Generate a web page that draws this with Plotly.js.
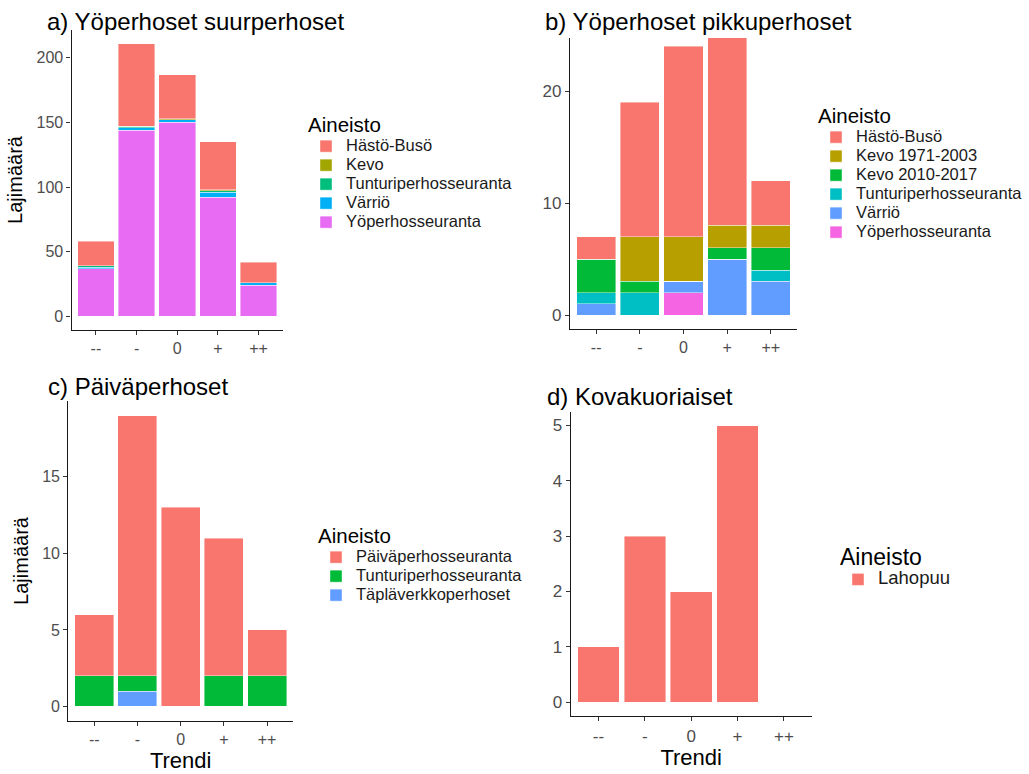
<!DOCTYPE html>
<html>
<head>
<meta charset="utf-8">
<script src="https://cdn.plot.ly/plotly-3.0.1.min.js"></script>
<style>html,body{margin:0;padding:0;background:#fff;}#chart{width:1029px;height:774px;}</style>
</head>
<body>
<div id="chart"></div>
<script>
// ---- Data ----
const trends = ['--', '-', '0', '+', '++'];

// a) Yöperhoset suurperhoset (stack bottom -> top)
const aNames = ['Yöperhosseuranta', 'Värriö', 'Tunturiperhosseuranta', 'Kevo', 'Hästö-Busö'];
const aYoperhosseuranta = [37, 144, 150, 92, 24];
const aVarrio = [1, 2, 2, 4, 2];
const aTunturi = [1, 1, 0, 1, 0];
const aKevo = [0, 0, 1, 1, 0];
const aHasto = [19, 64, 34, 37, 16];
const aColors = ['#E76BF3', '#00B0F6', '#00BF7D', '#A3A500', '#F8766D'];

// b) Yöperhoset pikkuperhoset (stack bottom -> top)
const bNames = ['Yöperhosseuranta', 'Värriö', 'Tunturiperhosseuranta', 'Kevo 2010-2017', 'Kevo 1971-2003', 'Hästö-Busö'];
const bYoperhosseuranta = [0, 0, 2, 0, 0];
const bVarrio = [1, 0, 1, 5, 3];
const bTunturi = [1, 2, 0, 0, 1];
const bKevo2010 = [3, 1, 0, 1, 2];
const bKevo1971 = [0, 4, 4, 2, 2];
const bHasto = [2, 12, 17, 17, 4];
const bColors = ['#F564E3', '#619CFF', '#00BFC4', '#00BA38', '#B79F00', '#F8766D'];

// c) Päiväperhoset (stack bottom -> top)
const cNames = ['Täpläverkkoperhoset', 'Tunturiperhosseuranta', 'Päiväperhosseuranta'];
const cTaplaverkko = [0, 1, 0, 0, 0];
const cTunturi = [2, 1, 0, 2, 2];
const cPaivaperho = [4, 17, 13, 9, 3];
const cColors = ['#619CFF', '#00BA38', '#F8766D'];

// d) Kovakuoriaiset
const dNames = ['Lahopuu'];
const dLahopuu = [1, 3, 2, 5, 0];
const dColors = ['#F8766D'];

// ---- Helpers ----
const W = 1029, H = 774;
const FONT = 'Liberation Sans, Arial, Helvetica, sans-serif';
const px = v => v / W;
const py = v => 1 - v / H;

function barTrace(name, y, color, xa, ya, legend, labelSize) {
  return {
    type: 'bar',
    name: '<span style="font-size:' + labelSize + 'px">' + name + '</span>',
    x: trends, y: y,
    xaxis: xa, yaxis: ya, legend: legend,
    marker: {color: color, line: {color: 'rgba(255,255,255,0.7)', width: 0.6}},
    hovertemplate: name + ': %{y}<extra></extra>'
  };
}

const traces = [];
[aYoperhosseuranta, aVarrio, aTunturi, aKevo, aHasto].forEach((s, i) =>
  traces.push(barTrace(aNames[i], s, aColors[i], 'x', 'y', 'legend', 16.5)));
[bYoperhosseuranta, bVarrio, bTunturi, bKevo2010, bKevo1971, bHasto].forEach((s, i) =>
  traces.push(barTrace(bNames[i], s, bColors[i], 'x2', 'y2', 'legend2', 16.5)));
[cTaplaverkko, cTunturi, cPaivaperho].forEach((s, i) =>
  traces.push(barTrace(cNames[i], s, cColors[i], 'x3', 'y3', 'legend3', 16.5)));
[dLahopuu].forEach((s, i) =>
  traces.push(barTrace(dNames[i], s, dColors[i], 'x4', 'y4', 'legend4', 18.5)));

function xAxis(left, right, anchor, titleText, tickSize) {
  const ax = {
    domain: [px(left), px(right)], anchor: anchor,
    type: 'category', categoryorder: 'array', categoryarray: trends,
    range: [-0.6, 4.6], fixedrange: true,
    showline: true, linecolor: '#1a1a1a', linewidth: 1.2,
    ticks: 'outside', ticklen: 4, tickwidth: 1.1, tickcolor: '#333333',
    tickfont: {family: FONT, size: tickSize, color: '#4D4D4D'},
    showgrid: false, zeroline: false
  };
  if (titleText) ax.title = {text: titleText, font: {family: FONT, size: 22, color: '#000'}, standoff: 4};
  return ax;
}
function yAxis(top, bottom, anchor, range, dtick, titleText, tickSize) {
  const ax = {
    domain: [py(bottom), py(top)], anchor: anchor,
    range: range, dtick: dtick, fixedrange: true,
    showline: true, linecolor: '#1a1a1a', linewidth: 1.2,
    ticks: 'outside', ticklen: 4, tickwidth: 1.1, tickcolor: '#333333',
    tickfont: {family: FONT, size: tickSize, color: '#4D4D4D'},
    showgrid: false, zeroline: false
  };
  if (titleText) ax.title = {text: titleText, font: {family: FONT, size: 20, color: '#000'}, standoff: 8};
  return ax;
}
function legendAt(x, y, titleSize) {
  return {
    x: px(x), y: py(y), xanchor: 'left', yanchor: 'top',
    traceorder: 'reversed', bgcolor: 'rgba(0,0,0,0)', borderwidth: 0,
    font: {family: FONT, size: 12, color: '#1a1a1a'},
    title: {text: 'Aineisto', font: {family: FONT, size: titleSize, color: '#000'}},
    itemclick: false, itemdoubleclick: false
  };
}
function panelTitle(text, x, y) {
  return {
    text: text, xref: 'paper', yref: 'paper', x: px(x), y: py(y),
    xanchor: 'left', yanchor: 'middle', showarrow: false,
    font: {family: FONT, size: 24, color: '#000'}
  };
}

const layout = {
  width: W, height: H,
  margin: {l: 0, r: 0, t: 0, b: 0},
  paper_bgcolor: '#fff', plot_bgcolor: '#fff',
  barmode: 'stack', bargap: 0.1,
  font: {family: FONT},
  xaxis: xAxis(71.5, 283, 'y', null, 16),
  yaxis: yAxis(30, 330, 'x', [-10.55, 221.55], 50, 'Lajimäärä', 16),
  xaxis2: xAxis(570, 797, 'y2', null, 16),
  yaxis2: yAxis(38, 329, 'x2', [-1.25, 24.75], 10, null, 17),
  xaxis3: xAxis(68.3, 293, 'y3', 'Trendi', 16),
  yaxis3: yAxis(401, 721, 'x3', [-0.95, 19.95], 5, 'Lajimäärä', 16),
  xaxis4: xAxis(570.7, 811.7, 'y4', 'Trendi', 17),
  yaxis4: yAxis(411.7, 716, 'x4', [-0.25, 5.25], 1, null, 17),
  legend: legendAt(306, 105, 20.5),
  legend2: legendAt(816, 96, 20.5),
  legend3: legendAt(316, 516, 20.5),
  legend4: legendAt(838, 535, 23),
  annotations: [
    panelTitle('a) Yöperhoset suurperhoset', 45, 21),
    panelTitle('b) Yöperhoset pikkuperhoset', 543, 21),
    panelTitle('c) Päiväperhoset', 46, 386),
    panelTitle('d) Kovakuoriaiset', 545, 396)
  ],
  showlegend: true
};

Plotly.newPlot('chart', traces, layout, {displayModeBar: false, responsive: false});
</script>
</body>
</html>
